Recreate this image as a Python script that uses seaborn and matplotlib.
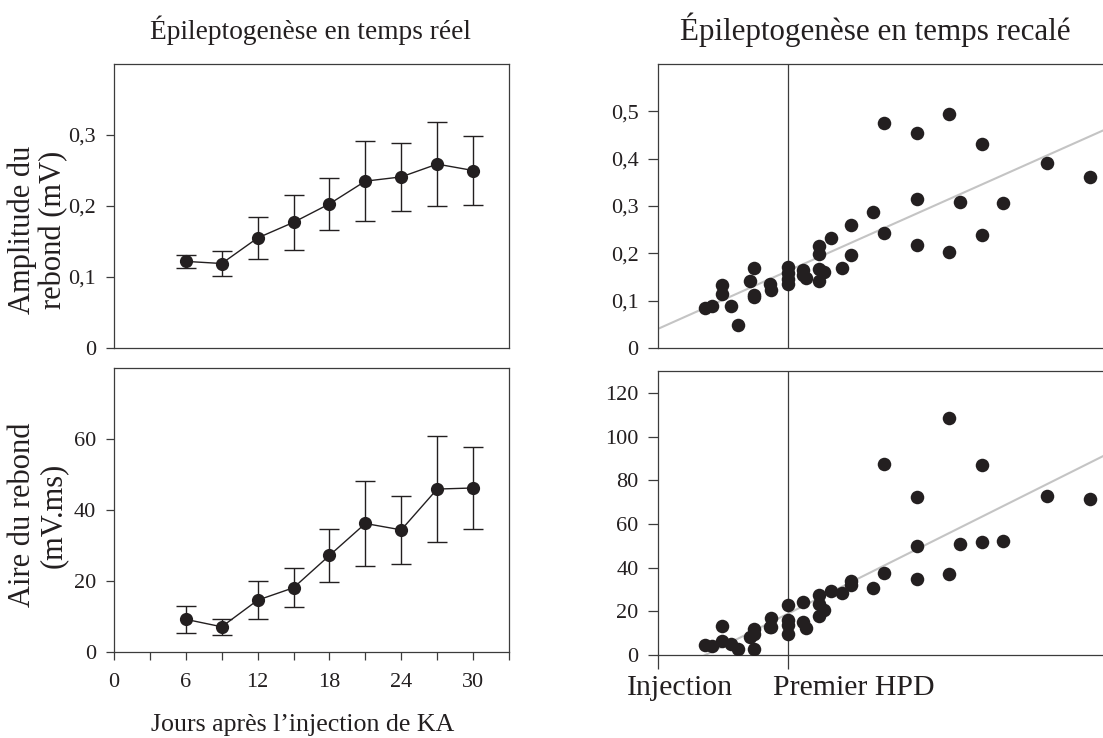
import numpy as np
import pandas as pd
import matplotlib
matplotlib.use("Agg")
import matplotlib.pyplot as plt
import seaborn as sns

# ---- data -------------------------------------------------------------
days = [6, 9, 12, 15, 18, 21, 24, 27, 30]
amp_mean = [0.122, 0.119, 0.155, 0.177, 0.203, 0.235, 0.241, 0.259, 0.250]
amp_sem = [0.009, 0.017, 0.029, 0.039, 0.037, 0.056, 0.048, 0.059, 0.048]
area_mean = [9.2, 7.1, 14.6, 18.1, 27.2, 36.2, 34.4, 45.9, 46.2]
area_sem = [3.8, 2.3, 5.3, 5.5, 7.5, 12.0, 9.6, 15.0, 11.6]

# rescaled time: 0 = injection, 1 = first HPD
t_amp = [0.36, 0.42, 0.49, 0.49, 0.56, 0.62, 0.71, 0.74, 0.74, 0.74, 0.86, 0.87,
         1.0, 1.0, 1.0, 1.0, 1.12, 1.12, 1.14, 1.24, 1.24, 1.24, 1.24, 1.28,
         1.33, 1.42, 1.49, 1.49, 1.66, 1.74, 1.74, 2.0, 2.0, 2.0, 2.24, 2.24,
         2.33, 2.5, 2.5, 2.66, 3.0, 3.33]
amp_ind = [0.085, 0.088, 0.134, 0.114, 0.088, 0.049, 0.142, 0.169, 0.113, 0.108,
           0.136, 0.122, 0.171, 0.159, 0.146, 0.136, 0.164, 0.154, 0.147, 0.215,
           0.198, 0.166, 0.142, 0.161, 0.233, 0.170, 0.260, 0.196, 0.288, 0.475,
           0.243, 0.454, 0.315, 0.217, 0.494, 0.202, 0.308, 0.431, 0.239, 0.307,
           0.391, 0.362]
t_area = [0.36, 0.42, 0.49, 0.49, 0.56, 0.62, 0.71, 0.74, 0.74, 0.74, 0.86, 0.87,
          0.87, 1.0, 1.0, 1.0, 1.0, 1.12, 1.12, 1.14, 1.24, 1.24, 1.24, 1.28,
          1.33, 1.42, 1.49, 1.49, 1.66, 1.74, 1.74, 2.0, 2.0, 2.0, 2.24, 2.24,
          2.33, 2.5, 2.5, 2.66, 3.0, 3.33]
area_ind = [4.7, 4.1, 13.3, 6.2, 5.2, 2.7, 8.2, 12.0, 9.5, 2.7, 12.8, 17.1, 12.8,
            22.7, 15.9, 13.6, 9.8, 24.4, 15.2, 12.2, 27.6, 23.5, 17.7, 20.4, 29.3,
            28.5, 33.8, 32.2, 30.8, 87.3, 37.7, 72.3, 49.8, 34.8, 108.5, 37.2,
            50.8, 87.2, 51.5, 52.3, 72.6, 71.6]

day_ticks = [0, 6, 12, 18, 24, 30]
day_tick_labels = ["0", "6", "12", "18", "24", "30"]
amp_ticks_left = [0, 0.1, 0.2, 0.3]
amp_labels_left = ["0", "0,1", "0,2", "0,3"]
area_ticks_left = [0, 20, 40, 60]
area_labels_left = ["0", "20", "40", "60"]
amp_ticks_right = [0, 0.1, 0.2, 0.3, 0.4, 0.5]
amp_labels_right = ["0", "0,1", "0,2", "0,3", "0,4", "0,5"]
area_ticks_right = [0, 20, 40, 60, 80, 100, 120]
area_labels_right = ["0", "20", "40", "60", "80", "100", "120"]
event_ticks = [0, 1]
event_labels = ["Injection", "Premier HPD"]

titles = ["Épileptogenèse en temps réel", "Épileptogenèse en temps recalé"]
ylabels = ["Amplitude du\nrebond (mV)", "Aire du rebond\n(mV.ms)"]
xlabel = "Jours après l’injection de KA"

# ---- style ------------------------------------------------------------
sns.set_style("ticks")
plt.rcParams["font.family"] = ["Liberation Serif", "DejaVu Serif"]
INK = "#231f20"
SPINE = "#3c3c3c"
plt.rcParams.update({
    "axes.edgecolor": SPINE,
    "axes.linewidth": 0.9,
    "xtick.color": SPINE,
    "ytick.color": SPINE,
    "xtick.labelcolor": INK,
    "ytick.labelcolor": INK,
    "text.color": INK,
})

W, H = 1103, 738
fig = plt.figure(figsize=(W / 100, H / 100), dpi=100)


def axes_px(left, top, right, bottom):
    return fig.add_axes([left / W, 1 - bottom / H, (right - left) / W, (bottom - top) / H])


ax_tl = axes_px(114, 64, 509, 348)
ax_bl = axes_px(114, 368, 509, 652)
ax_tr = axes_px(658, 64, 1106, 348)
ax_br = axes_px(658, 371, 1106, 655)

TICK_FS = 16


def mean_panel(ax, mean, sem, ylim, ticks, labels):
    df = pd.DataFrame({"jour": days, "val": mean})
    ax.errorbar(days, mean, yerr=sem, fmt="none", ecolor=INK, elinewidth=1.0,
                capsize=7, capthick=1.0, zorder=2)
    sns.lineplot(data=df, x="jour", y="val", ax=ax, color=INK, lw=1.0,
                 marker="o", markersize=9.5, markeredgewidth=0, zorder=3)
    ax.set_xlim(0, 33)
    ax.set_ylim(*ylim)
    ax.set_yticks(ticks)
    ax.set_yticklabels(labels, fontsize=TICK_FS)
    ax.tick_params(axis="y", direction="out", length=6, width=0.9, pad=7)
    ax.set_xlabel("")
    ax.set_ylabel("")


mean_panel(ax_tl, amp_mean, amp_sem, (0, 0.4), amp_ticks_left, amp_labels_left)
ax_tl.set_xticks([])
mean_panel(ax_bl, area_mean, area_sem, (0, 80), area_ticks_left, area_labels_left)
ax_bl.set_xticks(day_ticks)
ax_bl.set_xticklabels(day_tick_labels, fontsize=TICK_FS)
ax_bl.set_xticks(np.arange(3, 34, 6), minor=True)
ax_bl.tick_params(axis="x", which="both", direction="out", length=6, width=0.9, pad=9)


def scatter_panel(ax, t, vals, ylim, ticks, labels):
    ax.set_xlim(0, 448 / 129.7)
    ax.set_ylim(*ylim)
    ax.axvline(1, color=SPINE, lw=0.9, zorder=1)
    sns.regplot(x=np.array(t), y=np.array(vals), ax=ax, ci=None, truncate=False,
                scatter_kws=dict(s=95, color=INK, linewidths=0, alpha=1, zorder=3),
                line_kws=dict(color="#c4c4c4", lw=1.5, zorder=2))
    ax.set_xlim(0, 448 / 129.7)
    ax.set_ylim(*ylim)
    ax.set_yticks(ticks)
    ax.set_yticklabels(labels, fontsize=TICK_FS)
    ax.tick_params(axis="y", direction="out", length=7, width=0.9, pad=7)
    ax.spines["right"].set_visible(False)


scatter_panel(ax_tr, t_amp, amp_ind, (0, 0.6), amp_ticks_right, amp_labels_right)
ax_tr.set_xticks([])
scatter_panel(ax_br, t_area, area_ind, (0, 130), area_ticks_right, area_labels_right)
ax_br.set_xticks(event_ticks)
ax_br.set_xticklabels([])
ax_br.tick_params(axis="x", direction="out", length=10, width=0.9)
for xt, lab, dx in zip(event_ticks, event_labels, [-31, -15]):
    ax_br.annotate(lab, xy=(xt, 0), xycoords="data", xytext=(dx, -40),
                   textcoords="offset pixels", ha="left", va="baseline",
                   fontsize=21.5, color=INK, annotation_clip=False)

# ---- titles and axis labels ------------------------------------------
fig.text(310 / W, 1 - 39 / H, titles[0], ha="center", va="baseline", fontsize=19.7)
fig.text(875 / W, 1 - 40 / H, titles[1], ha="center", va="baseline", fontsize=22.3)
fig.text(38 / W, 1 - 230 / H, ylabels[0], rotation=90, ha="center", va="center",
         multialignment="center", fontsize=22.0, linespacing=1.08)
fig.text(38 / W, 1 - 515 / H, ylabels[1], rotation=90, ha="center", va="center",
         multialignment="center", fontsize=22.0, linespacing=1.08)
fig.text(303 / W, 1 - 731 / H, xlabel, ha="center", va="baseline", fontsize=18.6)

fig.savefig("out.png", dpi=100, facecolor="white")
